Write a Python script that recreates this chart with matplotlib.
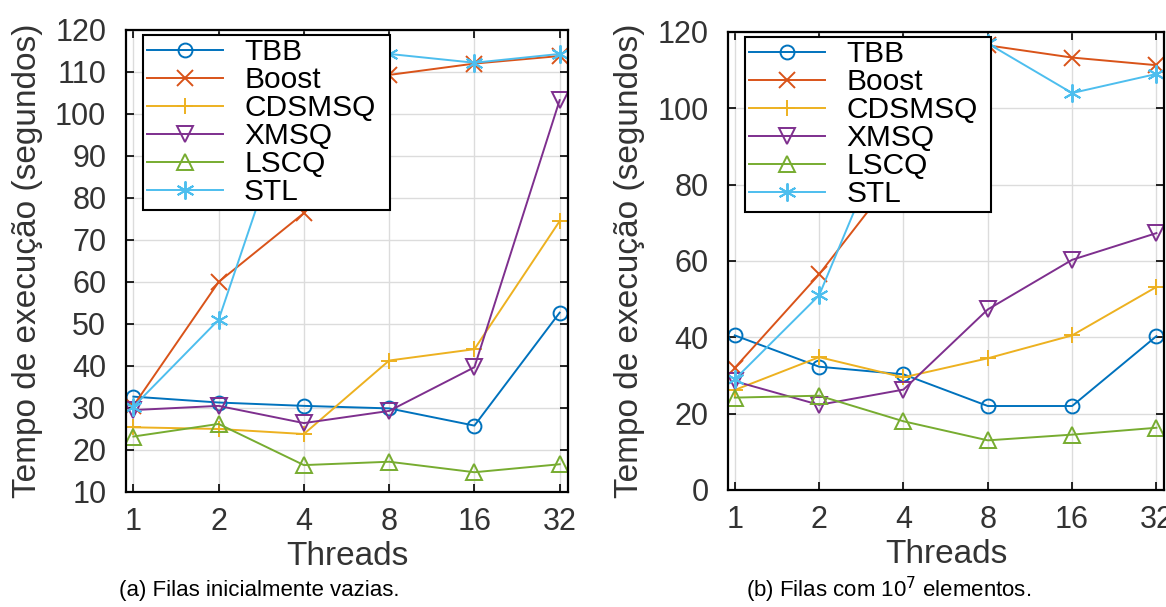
import matplotlib
matplotlib.use("Agg")
import matplotlib.pyplot as plt

plt.rcParams['font.family'] = ['Liberation Sans', 'DejaVu Sans']

threads = [1, 2, 4, 8, 16, 32]
queue_names = ['TBB', 'Boost', 'CDSMSQ', 'XMSQ', 'LSCQ', 'STL']

# (a) filas inicialmente vazias
empty_tbb = [32.7, 31.3, 30.5, 29.9, 25.8, 52.7]
empty_boost = [30.5, 60, 76.4, 109.3, 112, 113.8]
empty_cdsmsq = [25.4, 25, 23.8, 41.3, 44.0, 74.5]
empty_xmsq = [29.5, 30.5, 26.4, 29.3, 39.7, 103.3]
empty_lscq = [23.2, 26.2, 16.4, 17.2, 14.7, 16.6]
empty_stl = [30.3, 51, 111, 114.3, 112.2, 114.3]

# (b) filas com 10^7 elementos
full_tbb = [40.5, 32.3, 30.3, 22, 22, 40.3]
full_boost = [32, 56.5, 85, 116.5, 113.3, 111.3]
full_cdsmsq = [26.2, 34.8, 29.5, 34.5, 40.5, 53.2]
full_xmsq = [28.5, 22.3, 26.3, 47.3, 60.3, 67.3]
full_lscq = [24.2, 24.7, 18, 13, 14.5, 16.3]
full_stl = [29, 51, 104, 117, 104, 109]

colors = ['#0072BD', '#D95319', '#EDB120', '#7E2F8E', '#77AC30', '#4DBEEE']
markers = ['o', 'x', '+', 'v', '^', (6, 2, 0)]
msizes = [10, 12, 12, 11, 11, 13]

TICK_FS = 22
LABEL_FS = 24
LEG_FS = 21.5


def draw_panel(ax, series, ylim, yticks, xlim, leg_width):
    ax.set_xscale('log', base=2)
    for name, vals, c, m, ms in zip(queue_names, series, colors, markers, msizes):
        ax.plot(threads, vals, color=c, marker=m, markersize=ms,
                markerfacecolor='none', markeredgewidth=1.4, linewidth=1.4,
                label=name)
    ax.set_xlim(*xlim)
    ax.set_ylim(*ylim)
    ax.set_xticks(threads)
    ax.set_xticklabels([str(t) for t in threads])
    ax.minorticks_off()
    ax.set_yticks(yticks)
    ax.tick_params(axis='both', direction='in', length=6, width=1.2,
                   top=True, right=True, labelsize=TICK_FS, colors='black')
    ax.tick_params(axis='y', pad=14)
    ax.tick_params(axis='x', pad=11)
    for lbl in ax.get_xticklabels() + ax.get_yticklabels():
        lbl.set_color('#333333')
    ax.grid(True, color='#dcdcdc', linewidth=1.0)
    ax.set_axisbelow(True)
    for sp in ax.spines.values():
        sp.set_linewidth(1.6)
        sp.set_color('black')
    ax.set_xlabel('Threads', fontsize=LABEL_FS, color='#333333', labelpad=3)
    ax.set_ylabel('Tempo de execução (segundos)', fontsize=LABEL_FS,
                  color='#333333', labelpad=9)
    leg = ax.legend(loc='upper left', bbox_to_anchor=(0.04, 0.0, leg_width, 0.99),
                    mode='expand', borderaxespad=0, fontsize=LEG_FS,
                    frameon=True, fancybox=False, labelspacing=0.0,
                    handlelength=2.55, handletextpad=0.7, borderpad=0.12,
                    framealpha=1)
    leg.get_frame().set_edgecolor('black')
    leg.get_frame().set_linewidth(1.5)
    leg.set_zorder(10)


fig = plt.figure(figsize=(11.66, 6.07), dpi=100)

ax1 = fig.add_axes([0.1078, 0.1895, 0.3795, 0.7611])
draw_panel(ax1,
           [empty_tbb, empty_boost, empty_cdsmsq, empty_xmsq, empty_lscq, empty_stl],
           (10, 120), list(range(10, 121, 10)), (2 ** -0.09, 2 ** 5.1), 0.557)

ax2 = fig.add_axes([0.6244, 0.1928, 0.3739, 0.7545])
draw_panel(ax2,
           [full_tbb, full_boost, full_cdsmsq, full_xmsq, full_lscq, full_stl],
           (0, 120), list(range(0, 121, 20)), (2 ** -0.08, 2 ** 5.09), 0.562)

fig.text(0.222, 0.028, '(a) Filas inicialmente vazias.', fontsize=16,
         ha='center', va='center')
fig.text(0.762, 0.028, '(b) Filas com 10$^7$ elementos.', fontsize=16,
         ha='center', va='center')

fig.savefig('out.png', dpi=100)
